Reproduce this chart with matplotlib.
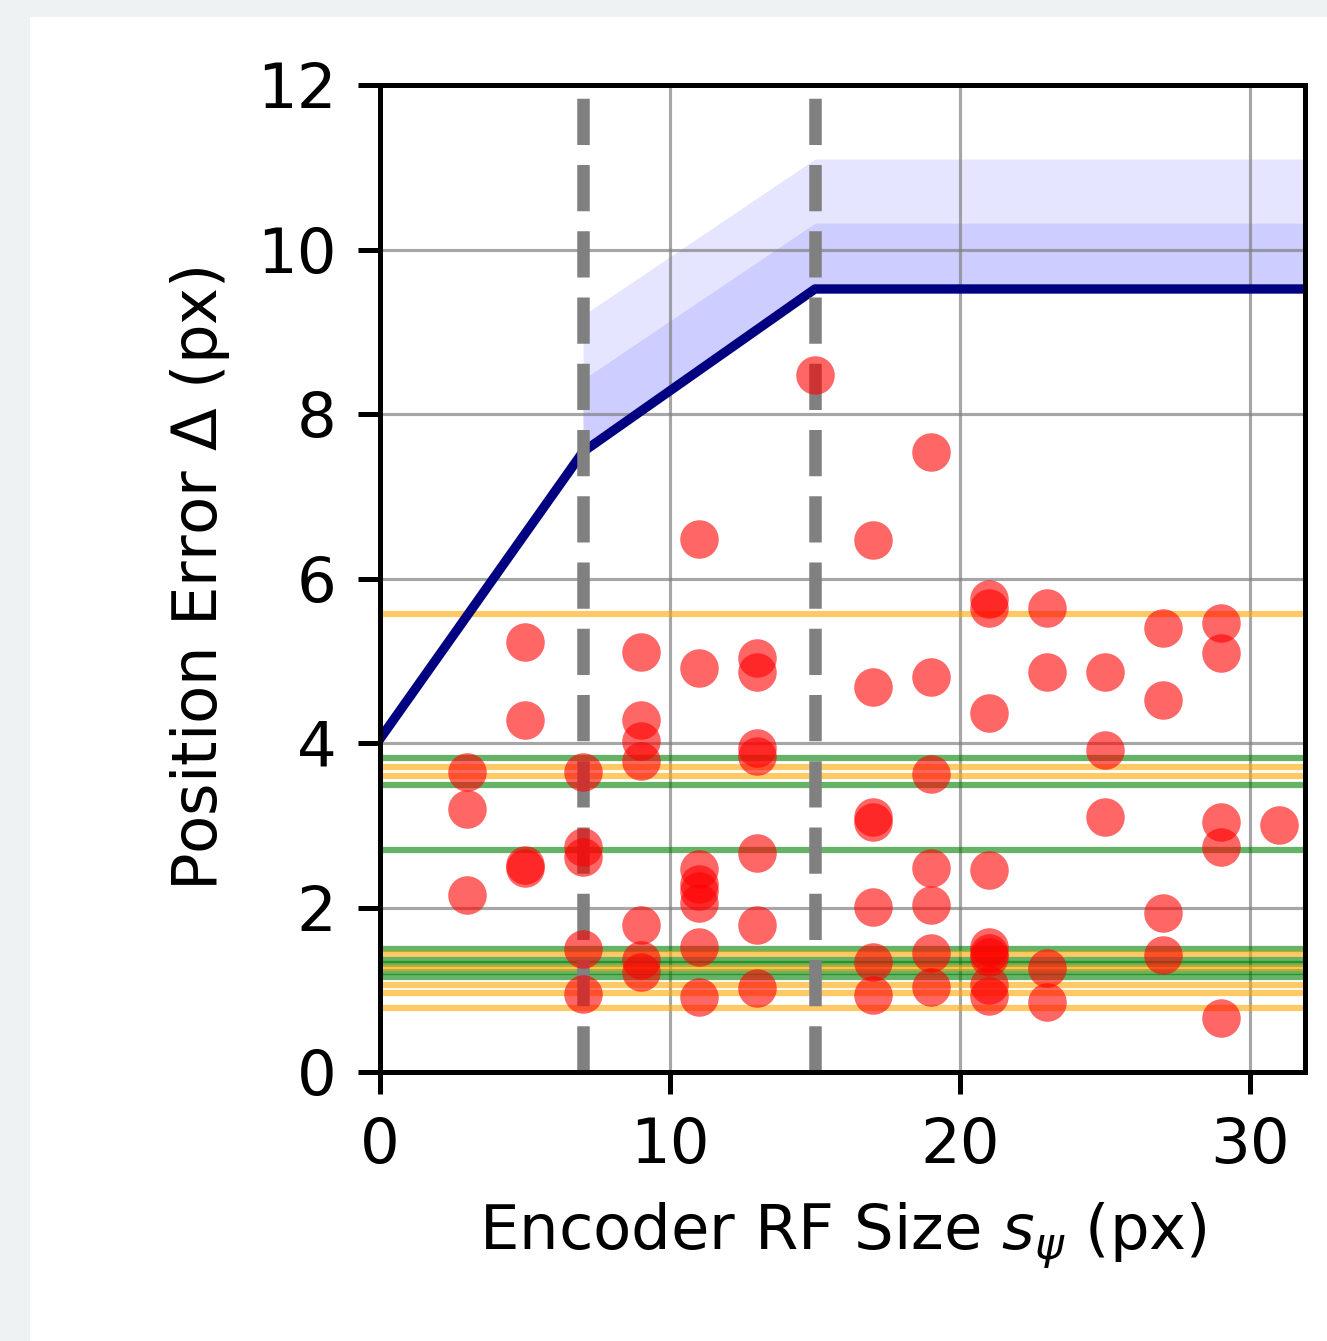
import matplotlib

matplotlib.use("Agg")
import matplotlib.pyplot as plt
from matplotlib.patches import Rectangle

# Curva teórica (tramos lineales) y bandas superiores
curva_rf = [0.0, 7.0, 15.0, 32.0]
curva_error = [4.05, 7.54, 9.52, 9.52]
banda_rf = [7.0, 15.0, 32.0]
banda_base = [7.54, 9.52, 9.52]
banda_media = [8.42, 10.32, 10.32]
banda_alta = [9.20, 11.10, 11.10]

# Líneas de referencia horizontales
niveles_verdes = [3.82, 3.49, 2.70, 1.50, 1.36, 1.31, 1.21, 1.15]
niveles_naranjas = [5.57, 3.71, 3.60, 1.43, 1.26, 1.06, 0.96, 0.78]

# Umbrales verticales
umbrales_rf = [7, 15]

# Medidas individuales (tamaño RF, error de posición)
medidas = {
    3: [3.65, 3.20, 2.15],
    5: [5.23, 4.28, 2.52, 2.48],
    7: [3.65, 2.74, 2.62, 1.49, 0.95],
    9: [5.11, 4.28, 4.02, 3.78, 1.79, 1.36, 1.22],
    11: [6.48, 4.91, 2.47, 2.28, 2.20, 2.05, 1.52, 0.91],
    13: [5.03, 4.86, 3.94, 3.84, 2.66, 1.79, 1.02],
    15: [8.47],
    17: [6.47, 4.68, 3.10, 3.04, 2.01, 1.34, 0.94],
    19: [7.54, 4.80, 3.62, 2.48, 2.03, 1.45, 1.03],
    21: [5.75, 5.64, 4.36, 2.46, 1.52, 1.45, 1.40, 1.06, 0.92],
    23: [5.64, 4.86, 1.26, 0.85],
    25: [4.86, 3.91, 3.10],
    27: [5.40, 4.52, 1.93, 1.42],
    29: [5.46, 5.09, 3.04, 2.74, 0.66],
    31: [3.00],
}

xticks = [0, 10, 20, 30]
yticks = [0, 2, 4, 6, 8, 10, 12]


def main() -> None:
    dpi = 450
    fig = plt.figure(figsize=(1327 / dpi, 1341 / dpi), dpi=dpi, facecolor="#eef2f3")
    # fondo blanco de la figura (margen gris arriba e izquierda)
    fig.patches.append(
        Rectangle((30 / 1327, 0), 1 - 30 / 1327, 1 - 17 / 1341,
                  transform=fig.transFigure, facecolor="white", edgecolor="none", zorder=-10)
    )
    ax = fig.add_axes([380 / 1327, 1 - 1072 / 1341, (1305 - 380) / 1327, (1072 - 85) / 1341])

    ax.fill_between(banda_rf, banda_base, banda_alta, color="blue", alpha=0.1, linewidth=0)
    ax.fill_between(banda_rf, banda_base, banda_media, color="blue", alpha=0.1, linewidth=0)

    for nivel in niveles_verdes:
        ax.axhline(nivel, color="green", alpha=0.6, linewidth=1.0)
    for nivel in niveles_naranjas:
        ax.axhline(nivel, color="orange", alpha=0.6, linewidth=1.0)

    ax.plot(curva_rf, curva_error, color="navy", linewidth=1.5)

    for umbral in umbrales_rf:
        ax.axvline(umbral, color="gray", linestyle="--", linewidth=2)

    xs = [rf for rf, errores in medidas.items() for _ in errores]
    ys = [e for errores in medidas.values() for e in errores]
    ax.scatter(xs, ys, color="red", alpha=0.6, s=38, linewidths=0, zorder=3)

    ax.set_xlim(0, 31.9)
    ax.set_ylim(0, 12)
    ax.set_xticks(xticks)
    ax.set_yticks(yticks)
    ax.grid(True, color="gray", linewidth=0.5, alpha=0.7)
    ax.set_xlabel(r"Encoder RF Size $s_\psi$ (px)")
    ax.set_ylabel(r"Position Error $\Delta$ (px)")

    fig.savefig("out.png", dpi=dpi, facecolor=fig.get_facecolor())
    plt.close(fig)


if __name__ == "__main__":
    main()
